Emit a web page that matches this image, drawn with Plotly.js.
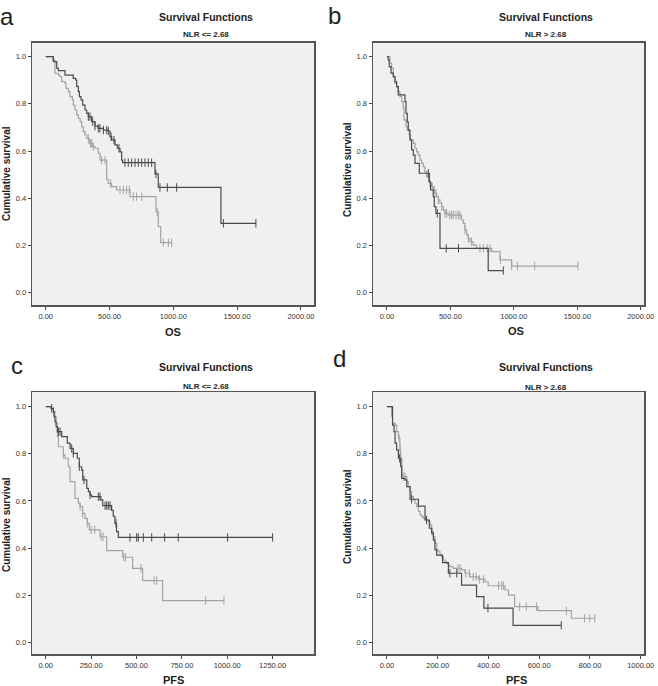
<!DOCTYPE html>
<html>
<head>
<meta charset="utf-8">
<script src="https://cdn.plot.ly/plotly-3.0.1.min.js"></script>
<style>html,body{margin:0;padding:0;background:#fff;}#chart{width:658px;height:686px;}</style>
</head>
<body>
<div id="chart"></div>
<script>
// ---------- Data (time, survival at each event step, censor times) ----------
// Panel a: OS, NLR <= 2.68
const aDarkT = [0, 60, 86, 99, 151, 216, 235, 243, 256, 264, 277, 290, 308, 321, 334, 360, 386, 412, 452, 491, 504, 517, 543, 561, 582, 595, 603, 856, 882, 1373];
const aDarkS = [1, 0.979, 0.951, 0.941, 0.922, 0.908, 0.901, 0.874, 0.852, 0.831, 0.817, 0.795, 0.774, 0.760, 0.746, 0.725, 0.706, 0.696, 0.689, 0.685, 0.661, 0.647, 0.626, 0.612, 0.597, 0.562, 0.551, 0.503, 0.446, 0.294];
const aDarkC = [334, 347, 368, 386, 412, 425, 452, 478, 491, 512, 535, 574, 621, 647, 673, 700, 726, 752, 778, 804, 830, 864, 895, 953, 1026, 1392, 1647];
const aLightT = [0, 55, 73, 99, 112, 125, 151, 159, 177, 190, 209, 216, 229, 243, 256, 269, 282, 295, 308, 321, 340, 365, 386, 412, 425, 478, 490, 517, 556, 660, 864, 882, 901];
const aLightS = [1, 0.986, 0.929, 0.922, 0.915, 0.894, 0.887, 0.866, 0.852, 0.831, 0.817, 0.795, 0.774, 0.753, 0.739, 0.725, 0.703, 0.682, 0.668, 0.654, 0.633, 0.619, 0.612, 0.590, 0.562, 0.480, 0.463, 0.449, 0.435, 0.407, 0.343, 0.280, 0.212];
const aLightC = [334, 350, 360, 373, 438, 465, 509, 582, 608, 634, 655, 686, 712, 752, 874, 921, 961, 987];

// Panel b: OS, NLR > 2.68
const bDarkT = [0, 10, 18, 32, 50, 63, 76, 89, 142, 150, 160, 168, 181, 194, 208, 221, 255, 334, 344, 365, 373, 386, 418, 798];
const bDarkS = [1, 0.986, 0.958, 0.930, 0.915, 0.894, 0.873, 0.838, 0.809, 0.760, 0.724, 0.689, 0.647, 0.605, 0.583, 0.548, 0.506, 0.470, 0.435, 0.407, 0.365, 0.336, 0.188, 0.094];
const bDarkC = [326, 397, 467, 564, 917];
const bLightT = [0, 24, 37, 50, 63, 76, 89, 102, 116, 129, 134, 150, 160, 176, 186, 208, 221, 234, 247, 260, 273, 286, 299, 313, 328, 339, 352, 365, 378, 391, 405, 418, 431, 444, 457, 483, 588, 602, 615, 628, 641, 654, 680, 707, 825, 891, 983];
const bLightS = [1, 0.972, 0.951, 0.915, 0.887, 0.873, 0.852, 0.831, 0.809, 0.781, 0.732, 0.703, 0.689, 0.668, 0.647, 0.633, 0.612, 0.597, 0.583, 0.562, 0.548, 0.534, 0.513, 0.492, 0.470, 0.463, 0.449, 0.435, 0.421, 0.407, 0.393, 0.379, 0.365, 0.350, 0.336, 0.329, 0.308, 0.294, 0.266, 0.245, 0.230, 0.216, 0.202, 0.188, 0.174, 0.139, 0.113];
const bLightC = [326, 339, 357, 373, 386, 405, 431, 457, 470, 496, 510, 523, 544, 562, 575, 615, 641, 667, 733, 760, 790, 812, 895, 983, 1028, 1164, 1506];

// Panel c: PFS, NLR <= 2.68
const cDarkT = [0, 30, 42, 46, 51, 57, 64, 88, 119, 134, 152, 174, 185, 198, 204, 226, 235, 244, 253, 304, 314, 363, 372, 381, 390, 400];
const cDarkS = [1, 0.993, 0.979, 0.958, 0.936, 0.915, 0.894, 0.873, 0.845, 0.823, 0.802, 0.781, 0.745, 0.731, 0.689, 0.653, 0.639, 0.625, 0.618, 0.604, 0.580, 0.560, 0.535, 0.505, 0.470, 0.445];
const cDarkC = [33, 70, 79, 143, 152, 185, 211, 244, 290, 299, 327, 336, 345, 354, 387, 464, 501, 510, 538, 584, 655, 730, 1002, 1250];
const cLightT = [0, 30, 42, 51, 57, 64, 70, 97, 106, 124, 134, 161, 180, 189, 203, 216, 229, 240, 299, 336, 424, 479, 534, 644];
const cLightS = [1, 0.99, 0.979, 0.958, 0.929, 0.873, 0.830, 0.795, 0.781, 0.745, 0.682, 0.611, 0.590, 0.576, 0.547, 0.526, 0.505, 0.477, 0.448, 0.389, 0.361, 0.314, 0.262, 0.177];
const cLightC = [42, 97, 189, 203, 229, 250, 270, 305, 316, 430, 440, 525, 597, 611, 881, 982];

// Panel d: PFS, NLR > 2.68
const dDarkT = [0, 22, 28, 32, 38, 45, 54, 58, 71, 78, 91, 124, 150, 167, 176, 183, 189, 196, 219, 242, 294, 353, 382, 497];
const dDarkS = [1, 0.922, 0.894, 0.845, 0.817, 0.781, 0.745, 0.696, 0.689, 0.661, 0.607, 0.578, 0.519, 0.484, 0.463, 0.434, 0.392, 0.370, 0.338, 0.293, 0.243, 0.194, 0.145, 0.072];
const dDarkC = [50, 97, 156, 248, 275, 398, 687];
const dLightT = [0, 18, 22, 32, 38, 45, 51, 54, 59, 78, 84, 91, 97, 104, 110, 117, 124, 130, 137, 143, 156, 163, 169, 176, 183, 189, 196, 202, 209, 215, 222, 229, 235, 242, 248, 261, 294, 307, 327, 360, 386, 399, 465, 479, 503, 595, 727];
const dLightS = [1, 0.96, 0.929, 0.922, 0.894, 0.866, 0.816, 0.781, 0.703, 0.682, 0.661, 0.639, 0.618, 0.604, 0.590, 0.576, 0.555, 0.541, 0.533, 0.526, 0.519, 0.512, 0.498, 0.470, 0.449, 0.420, 0.392, 0.385, 0.371, 0.363, 0.349, 0.342, 0.335, 0.328, 0.321, 0.314, 0.307, 0.293, 0.278, 0.268, 0.257, 0.240, 0.222, 0.200, 0.151, 0.134, 0.102];
const dLightC = [48, 52, 64, 71, 178, 280, 288, 310, 324, 340, 351, 365, 380, 440, 452, 459, 523, 549, 589, 707, 779, 799, 819];

const panelLetters = ['a', 'b', 'c', 'd'];
const mainTitle = 'Survival Functions';
const subTitles = ['NLR &lt;= 2.68', 'NLR &gt; 2.68', 'NLR &lt;= 2.68', 'NLR &gt; 2.68'];
const xTitles = ['OS', 'OS', 'PFS', 'PFS'];
const yTitle = 'Cumulative survival';
const xTicksOS = [0, 500, 1000, 1500, 2000];
const xTicksPFSa = [0, 250, 500, 750, 1000, 1250];
const xTicksPFSb = [0, 200, 400, 600, 800, 1000];
const yTicks = [0, 0.2, 0.4, 0.6, 0.8, 1.0];

// ---------- Helpers ----------
const DARK = '#4a4a4a', LIGHT = '#a3a3a3';
const FONT = 'Arial, "Liberation Sans", sans-serif';
function stepAt(T, S, t) { let v = S[0]; for (let i = 0; i < T.length; i++) { if (T[i] <= t) v = S[i]; } return v; }
function curve(T, S, C, color, ax) {
  const lastT = Math.max(T[T.length - 1], ...C);
  const xs = T.concat([lastT]);
  const ys = S.concat([S[S.length - 1]]);
  return [
    { x: xs, y: ys, type: 'scatter', mode: 'lines', line: { shape: 'hv', color: color, width: 1.2 }, xaxis: 'x' + ax, yaxis: 'y' + ax, hoverinfo: 'skip', showlegend: false },
    { x: C, y: C.map(t => stepAt(T, S, t)), type: 'scatter', mode: 'markers', marker: { symbol: 'line-ns-open', size: 6, color: color, line: { color: color, width: 1 } }, xaxis: 'x' + ax, yaxis: 'y' + ax, hoverinfo: 'skip', showlegend: false }
  ];
}
const traces = [].concat(
  curve(aLightT, aLightS, aLightC, LIGHT, ''), curve(aDarkT, aDarkS, aDarkC, DARK, ''),
  curve(bLightT, bLightS, bLightC, LIGHT, '2'), curve(bDarkT, bDarkS, bDarkC, DARK, '2'),
  curve(cLightT, cLightS, cLightC, LIGHT, '3'), curve(cDarkT, cDarkS, cDarkC, DARK, '3'),
  curve(dLightT, dLightS, dLightC, LIGHT, '4'), curve(dDarkT, dDarkS, dDarkC, DARK, '4')
);

const W = 658, H = 686;
const px = v => v / W, py = v => 1 - v / H;
function xax(dom, range, tv, anchor) {
  return { domain: dom, range: range, tickvals: tv, tickformat: '.2f', ticks: 'outside', ticklen: 3, tickcolor: '#444', tickwidth: 1,
    showline: true, mirror: true, linecolor: '#555', linewidth: 1.5, showgrid: false, zeroline: false, anchor: anchor,
    tickfont: { family: FONT, size: 7.5, color: '#333' }, fixedrange: true };
}
function yax(dom, range, anchor) {
  return { domain: dom, range: range, tickvals: yTicks, tickformat: '.1f', ticks: 'outside', ticklen: 3, tickcolor: '#444', tickwidth: 1,
    showline: true, mirror: true, linecolor: '#555', linewidth: 1.5, showgrid: false, zeroline: false, anchor: anchor,
    tickfont: { family: FONT, size: 7.5, color: '#333' }, fixedrange: true };
}
const xdL = [px(32.3), px(314)], xdR = [px(373), px(644)];
const ydT = [py(305), py(42.7)], ydB = [py(654.3), py(392.3)];

const ann = [];
function txt(x, y, text, size, bold, extra) {
  ann.push(Object.assign({ xref: 'paper', yref: 'paper', x: px(x), y: py(y), text: bold ? '<b>' + text + '</b>' : text, showarrow: false,
    xanchor: 'center', yanchor: 'middle', font: { family: FONT, size: size, color: '#222' } }, extra || {}));
}
// panel letters
txt(7, 1, panelLetters[0], 24, false, { yanchor: 'top' });
txt(334, 0, panelLetters[1], 24, false, { yanchor: 'top' });
txt(17, 350, panelLetters[2], 24, false, { yanchor: 'top' });
txt(339, 343, panelLetters[3], 24, false, { yanchor: 'top' });
// titles
const tcx = [206, 546, 206, 546], tty = [17, 17, 367, 367], sty = [34.5, 35, 386, 387];
for (let i = 0; i < 4; i++) {
  txt(tcx[i], tty[i], mainTitle, 10.5, true);
  txt(tcx[i], sty[i], subTitles[i], 8, true);
}
// axis titles
txt(173, 332, xTitles[0], 11, true);
txt(516, 331, xTitles[1], 11, true);
txt(173, 680, xTitles[2], 11, true);
txt(516, 680, xTitles[3], 11, true);
txt(6, 174, yTitle, 10, true, { textangle: -90 });
txt(347, 170, yTitle, 10, true, { textangle: -90 });
txt(6, 525, yTitle, 10, true, { textangle: -90 });
txt(347, 517, yTitle, 10, true, { textangle: -90 });

const layout = {
  width: W, height: H, margin: { l: 0, r: 0, t: 0, b: 0 }, paper_bgcolor: '#ffffff', plot_bgcolor: '#f0f0f0', showlegend: false,
  xaxis: xax(xdL, [-105, 2102], xTicksOS, 'y'), yaxis: yax(ydT, [-0.052, 1.059], 'x'),
  xaxis2: xax(xdR, [-110, 2026], xTicksOS, 'y2'), yaxis2: yax(ydT, [-0.052, 1.059], 'x2'),
  xaxis3: xax(xdL, [-74, 1478], xTicksPFSa, 'y3'), yaxis3: yax(ydB, [-0.051, 1.061], 'x3'),
  xaxis4: xax(xdR, [-55, 1013], xTicksPFSb, 'y4'), yaxis4: yax(ydB, [-0.051, 1.061], 'x4'),
  annotations: ann
};
Plotly.newPlot('chart', traces, layout, { displayModeBar: false, staticPlot: true });
</script>
</body>
</html>
